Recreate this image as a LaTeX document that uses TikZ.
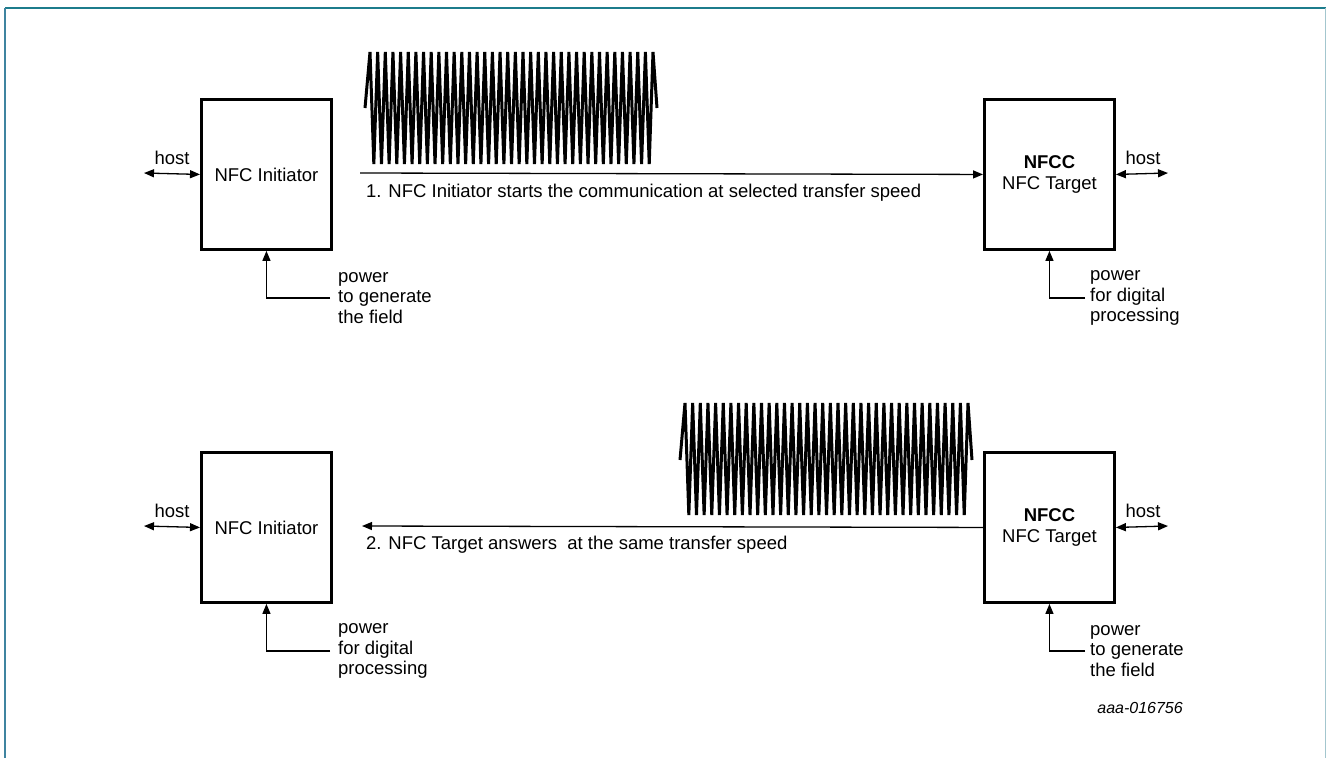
\documentclass[tikz,border=0pt]{standalone}
\usepackage{fontspec}
\setmainfont{Liberation Sans}
\usetikzlibrary{arrows.meta}
\definecolor{frametop}{HTML}{1C7C8C}
\definecolor{frameleft}{HTML}{3F84A0}
\definecolor{frameright}{HTML}{A3C6CE}
\begin{document}
\begin{tikzpicture}[x=1pt,y=-1pt,
  font=\fontsize{18.5}{20.8}\selectfont,
  blk/.style={draw, line width=2.9pt, minimum width=130pt, minimum height=150pt,
    inner sep=0pt, anchor=north west, align=center},
  conn/.style={line width=1.3pt},
  tip/.tip={Triangle[length=10pt,width=8pt]},
  arr/.style={conn, -tip},
  dbl/.style={conn, tip-tip},
  wave/.style={line width=3pt},
  lbl/.style={inner sep=0pt},
  txt/.style={inner sep=0pt, anchor=west, align=left}]
\useasboundingbox (0,0) rectangle (1326,758);
% frame
\draw[frametop, line width=1.8pt] (5,8) -- (1325.5,8);
\draw[frameleft, line width=1.4pt] (5,8) -- (5,758);
\draw[frameright, line width=1.4pt] (1325.5,8) -- (1325.5,758);

% ---------- upper row ----------
\node[blk] (i1) at (200,98) {NFC Initiator};
\node[blk] (t1) at (983,98) {\textbf{NFCC}\\NFC Target};
\coordinate (h1l) at (144,173);
\coordinate (h1r) at (1168,173);
\draw[dbl] (h1l) -- (i1.west);
\draw[dbl] (t1.east) -- (h1r);
\node[lbl] (hl1) at (172,158) {host};
\node[lbl] (hr1) at (1143,158) {host};
\coordinate (a1s) at (360,173);
\draw[arr] (a1s) -- (t1.west);
\node[txt] (m1) at (366,193) {1. NFC Initiator starts the communication at selected transfer speed};
\coordinate (p1) at (330,298);
\draw[arr] (p1) -| (i1.south);
\node[txt] (pt1) at (338,298) {power\\to generate\\the field};
\coordinate (p2) at (1085,298);
\draw[arr] (p2) -| (t1.south);
\node[txt] (pt2) at (1090,298) {power\\for digital\\processing};
\draw[wave] (365,108) foreach \k in {0,...,36} { -- ({370+\k*7.65},52) -- ({373.825+\k*7.65},164) } -- (653,52) -- (657,108);

% ---------- lower row ----------
\node[blk] (i2) at (200,451) {NFC Initiator};
\node[blk] (t2) at (983,451) {\textbf{NFCC}\\NFC Target};
\coordinate (h2l) at (144,526);
\coordinate (h2r) at (1168,526);
\draw[dbl] (h2l) -- (i2.west);
\draw[dbl] (t2.east) -- (h2r);
\node[lbl] (hl2) at (172,511) {host};
\node[lbl] (hr2) at (1143,511) {host};
\coordinate (a2e) at (362,526);
\draw[arr] (t2.west) -- (a2e);
\node[txt] (m2) at (366,545) {2. NFC Target answers\ \ at the same transfer speed};
\coordinate (p3) at (330,651);
\draw[arr] (p3) -| (i2.south);
\node[txt] (pt3) at (338,651) {power\\for digital\\processing};
\coordinate (p4) at (1085,651);
\draw[arr] (p4) -| (t2.south);
\node[txt] (pt4) at (1090,651) {power\\to generate\\the field};
\draw[wave] (680,460) foreach \k in {0,...,36} { -- ({685+\k*7.65},403) -- ({688.825+\k*7.65},515) } -- (968,403) -- (972,460);

\node[lbl, anchor=east, font=\itshape\fontsize{16}{18}\selectfont] (id) at (1183,708) {aaa-016756};
\end{tikzpicture}
\end{document}
